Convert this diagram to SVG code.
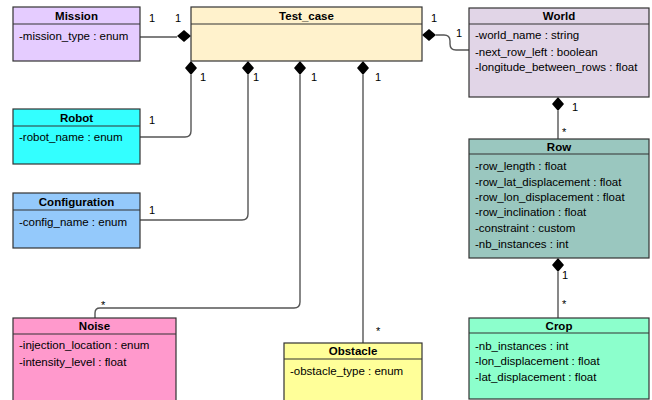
<svg xmlns="http://www.w3.org/2000/svg" width="652" height="400" viewBox="0 0 652 400">
<style>
.box{stroke:#333;stroke-width:1.2}
.sep{stroke:#333;stroke-width:1.2}
.title{font-family:"Liberation Sans",Arial,sans-serif;font-size:11.5px;font-weight:bold;text-anchor:middle;fill:#000}
.attr{font-family:"Liberation Sans",Arial,sans-serif;font-size:11.5px;fill:#000}
.lbl{font-family:"Liberation Sans",Arial,sans-serif;font-size:11px;fill:#000}
.conn{fill:none;stroke:#555;stroke-width:1.4}
.dia{fill:#000}
</style>
<rect width="652" height="400" fill="#fff"/>
<g id="connectors">
  <!-- Mission -->
  <path class="conn" d="M140 37 H177"/>
  <polygon class="dia" points="177,36 184,30 191,36 184,42"/>
  <!-- Robot -->
  <path class="conn" d="M191 75 V131 Q191 137 185 137 H140"/>
  <polygon class="dia" points="191,61 197,68 191,75 185,68"/>
  <!-- Configuration -->
  <path class="conn" d="M248 75 V214 Q248 220 242 220 H140"/>
  <polygon class="dia" points="248,61 254,68 248,75 242,68"/>
  <!-- Noise -->
  <path class="conn" d="M300 75 V302 Q300 308 294 308 H100 Q95 308 95 313 V318"/>
  <polygon class="dia" points="300,61 306,68 300,75 294,68"/>
  <!-- Obstacle -->
  <path class="conn" d="M363 75 V343"/>
  <polygon class="dia" points="363,61 369,68 363,75 357,68"/>
  <!-- World -->
  <path class="conn" d="M436 35 H444 Q450 35 450 41 V44 Q450 50 456 50 H469"/>
  <polygon class="dia" points="422,35 429,29 436,35 429,41"/>
  <!-- World-Row -->
  <path class="conn" d="M558 111 V139"/>
  <polygon class="dia" points="558,97 564,104 558,111 552,104"/>
  <!-- Row-Crop -->
  <path class="conn" d="M558 272 V318"/>
  <polygon class="dia" points="558,258 564,265 558,272 552,265"/>
  <!-- labels -->
  <text class="lbl" x="149" y="22">1</text>
  <text class="lbl" x="175" y="22">1</text>
  <text class="lbl" x="200" y="81">1</text>
  <text class="lbl" x="253" y="81">1</text>
  <text class="lbl" x="311" y="81">1</text>
  <text class="lbl" x="375" y="81">1</text>
  <text class="lbl" x="149" y="124">1</text>
  <text class="lbl" x="149" y="214">1</text>
  <text class="lbl" x="101" y="309">*</text>
  <text class="lbl" x="376" y="335">*</text>
  <text class="lbl" x="431" y="22">1</text>
  <text class="lbl" x="456" y="37">1</text>
  <text class="lbl" x="572" y="111">1</text>
  <text class="lbl" x="562" y="136">*</text>
  <text class="lbl" x="562" y="279">1</text>
  <text class="lbl" x="562" y="308">*</text>
</g>
<g id="Mission">
  <rect class="box" x="13" y="7" width="127" height="54" fill="#e5ccff"/>
  <line class="sep" x1="13" y1="24" x2="140" y2="24"/>
  <text class="title" x="76.5" y="20">Mission</text>
  <text class="attr" x="19" y="40">-mission_type : enum</text>
</g>
<g id="Robot">
  <rect class="box" x="13" y="109" width="127" height="55" fill="#33ffff"/>
  <line class="sep" x1="13" y1="126" x2="140" y2="126"/>
  <text class="title" x="76.5" y="122">Robot</text>
  <text class="attr" x="19" y="141">-robot_name : enum</text>
</g>
<g id="Configuration">
  <rect class="box" x="13" y="193" width="127" height="55" fill="#94c9fb"/>
  <line class="sep" x1="13" y1="210" x2="140" y2="210"/>
  <text class="title" x="76.5" y="206">Configuration</text>
  <text class="attr" x="19" y="226">-config_name : enum</text>
</g>
<g id="Noise">
  <rect class="box" x="13" y="318" width="163" height="90" fill="#ff99cc"/>
  <line class="sep" x1="13" y1="334" x2="176" y2="334"/>
  <text class="title" x="94.5" y="330">Noise</text>
  <text class="attr" x="19" y="349">-injection_location : enum</text>
  <text class="attr" x="19" y="366">-intensity_level : float</text>
</g>
<g id="Obstacle">
  <rect class="box" x="284" y="343" width="138" height="70" fill="#ffff99"/>
  <line class="sep" x1="284" y1="359" x2="422" y2="359"/>
  <text class="title" x="353" y="355">Obstacle</text>
  <text class="attr" x="290" y="375">-obstacle_type : enum</text>
</g>
<g id="Test_case">
  <rect class="box" x="191" y="7" width="231" height="54" fill="#fff2cc"/>
  <line class="sep" x1="191" y1="24" x2="422" y2="24"/>
  <text class="title" x="306.5" y="20">Test_case</text>
</g>
<g id="World">
  <rect class="box" x="469" y="8" width="180" height="89" fill="#e1d5e7"/>
  <line class="sep" x1="469" y1="24" x2="649" y2="24"/>
  <text class="title" x="559" y="20">World</text>
  <text class="attr" x="475" y="39">-world_name : string</text>
  <text class="attr" x="475" y="56">-next_row_left : boolean</text>
  <text class="attr" x="475" y="71">-longitude_between_rows : float</text>
</g>
<g id="Row">
  <rect class="box" x="469" y="139" width="180" height="119" fill="#9ac7bf"/>
  <line class="sep" x1="469" y1="154" x2="649" y2="154"/>
  <text class="title" x="559" y="151">Row</text>
  <text class="attr" x="475" y="170">-row_length : float</text>
  <text class="attr" x="475" y="186">-row_lat_displacement : float</text>
  <text class="attr" x="475" y="201">-row_lon_displacement : float</text>
  <text class="attr" x="475" y="216">-row_inclination : float</text>
  <text class="attr" x="475" y="232">-constraint : custom</text>
  <text class="attr" x="475" y="248">-nb_instances : int</text>
</g>
<g id="Crop">
  <rect class="box" x="469" y="318" width="180" height="81" fill="#8cffcc"/>
  <line class="sep" x1="469" y1="333" x2="649" y2="333"/>
  <text class="title" x="559" y="330">Crop</text>
  <text class="attr" x="475" y="350">-nb_instances : int</text>
  <text class="attr" x="475" y="365">-lon_displacement : float</text>
  <text class="attr" x="475" y="381">-lat_displacement : float</text>
</g>
</svg>
